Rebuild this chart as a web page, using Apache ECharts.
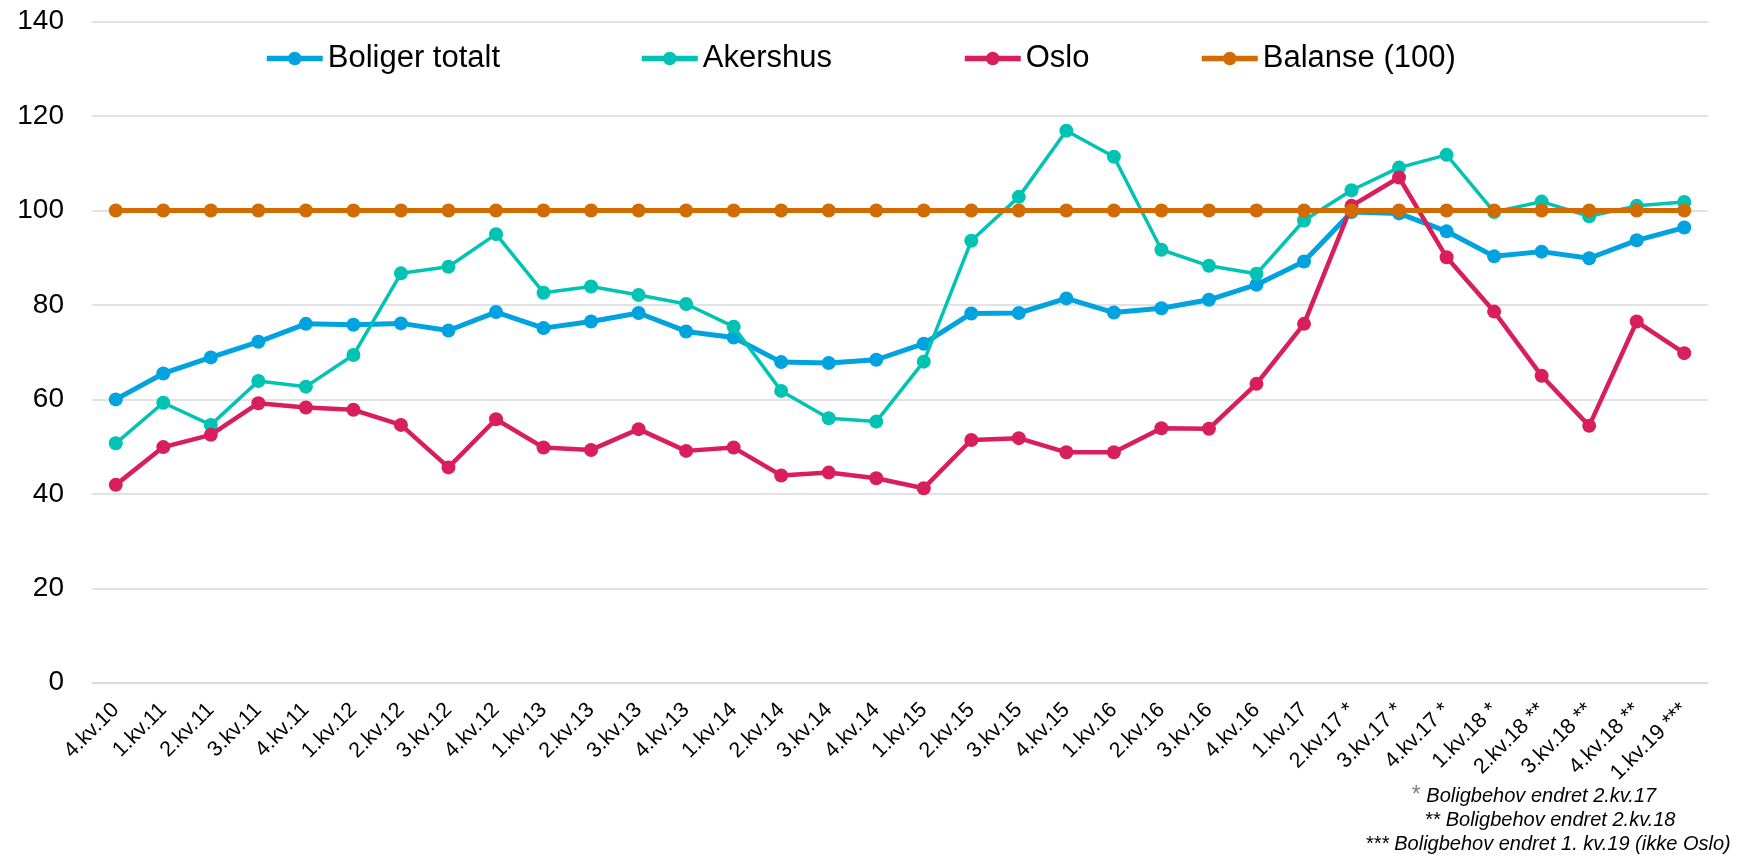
<!DOCTYPE html>
<html>
<head>
<meta charset="utf-8">
<script src="https://cdn.jsdelivr.net/npm/echarts@6/dist/echarts.min.js"></script>
<style>
html,body{margin:0;padding:0;background:#fff;}
#chart{width:1741px;height:862px;}
</style>
</head>
<body>
<div id="chart"></div>
<script>
const categories = ['4.kv.10','1.kv.11','2.kv.11','3.kv.11','4.kv.11','1.kv.12','2.kv.12','3.kv.12','4.kv.12',
  '1.kv.13','2.kv.13','3.kv.13','4.kv.13','1.kv.14','2.kv.14','3.kv.14','4.kv.14','1.kv.15','2.kv.15','3.kv.15','4.kv.15',
  '1.kv.16','2.kv.16','3.kv.16','4.kv.16','1.kv.17','2.kv.17 *','3.kv.17 *','4.kv.17 *','1.kv.18 *','2.kv.18 **','3.kv.18 **','4.kv.18 **','1.kv.19 ***'];
const boligerTotalt = [60.0,65.5,68.9,72.2,76.0,75.8,76.1,74.6,78.5,75.1,76.5,78.3,74.4,73.1,67.9,67.7,68.4,71.8,78.2,78.3,81.4,78.4,79.3,81.1,84.3,89.2,99.7,99.4,95.6,90.3,91.3,89.9,93.7,96.4];
const akershus = [50.7,59.3,54.6,63.9,62.7,69.4,86.7,88.1,95.0,82.6,83.9,82.1,80.2,75.4,61.8,56.0,55.3,68.0,93.6,102.9,116.9,111.4,91.7,88.3,86.6,97.9,104.3,109.1,111.8,99.7,101.9,98.8,101.0,101.8];
const oslo = [41.9,49.9,52.5,59.2,58.3,57.8,54.6,45.6,55.8,49.8,49.3,53.7,49.1,49.8,43.9,44.5,43.3,41.2,51.4,51.8,48.8,48.8,53.9,53.8,63.3,76.0,101.0,107.0,90.1,78.6,65.0,54.4,76.5,69.8];
const balanse = categories.map(() => 100);
const yTicks = {min: 0, max: 140, interval: 20};
const seriesNames = ['Boliger totalt','Akershus','Oslo','Balanse (100)'];
const seriesColors = ['#00a2e0','#00c3b3','#d81e5b','#d26c02'];
const footnotes = ['{s|*} Boligbehov endret 2.kv.17','** Boligbehov endret 2.kv.18','*** Boligbehov endret 1. kv.19 (ikke Oslo)'];

const FONT = 'Liberation Sans, Arial, sans-serif';
const chart = echarts.init(document.getElementById('chart'));
const dataSets = [boligerTotalt, akershus, oslo, balanse];
const widths = [5, 3.5, 4.5, 5];
const legendLeft = [259, 634, 957, 1194];
const footX = [1534, 1550, 1548];

chart.setOption({
  animation: false,
  textStyle: {fontFamily: FONT},
  grid: {left: 92, right: 33, top: 21.7, bottom: 179.3, containLabel: false},
  legend: seriesNames.map((n, i) => ({
    data: [n], left: legendLeft[i], top: 38, itemWidth: 56, itemHeight: 17,
    lineStyle: {width: 5.5},
    textStyle: {fontSize: 31, color: '#000', fontFamily: FONT}
  })),
  xAxis: {
    type: 'category', data: categories, boundaryGap: true,
    axisLine: {lineStyle: {color: '#d9d9d9', width: 1.5}},
    axisTick: {show: false},
    axisLabel: {rotate: 45, interval: 0, fontSize: 21.5, color: '#000', margin: 24, fontFamily: FONT}
  },
  yAxis: {
    type: 'value', min: yTicks.min, max: yTicks.max, interval: yTicks.interval,
    axisLine: {show: false}, axisTick: {show: false},
    axisLabel: {fontSize: 28, color: '#000', margin: 28, fontFamily: FONT},
    splitLine: {lineStyle: {color: '#d9d9d9', width: 1.5}}
  },
  series: seriesNames.map((n, i) => ({
    name: n, type: 'line', data: dataSets[i],
    symbol: 'circle', symbolSize: 14,
    lineStyle: {width: widths[i], color: seriesColors[i]},
    itemStyle: {color: seriesColors[i]},
    z: 2 + i
  })),
  graphic: footnotes.map((t, i) => ({
    type: 'text', x: footX[i], y: 796 + i * 24,
    style: {
      text: t, font: 'italic 20px ' + FONT, fill: '#000', textAlign: 'center', textVerticalAlign: 'middle',
      rich: {s: {fontStyle: 'normal', fontSize: 23, fill: '#808080', fontFamily: FONT}}
    }
  }))
});
</script>
</body>
</html>
